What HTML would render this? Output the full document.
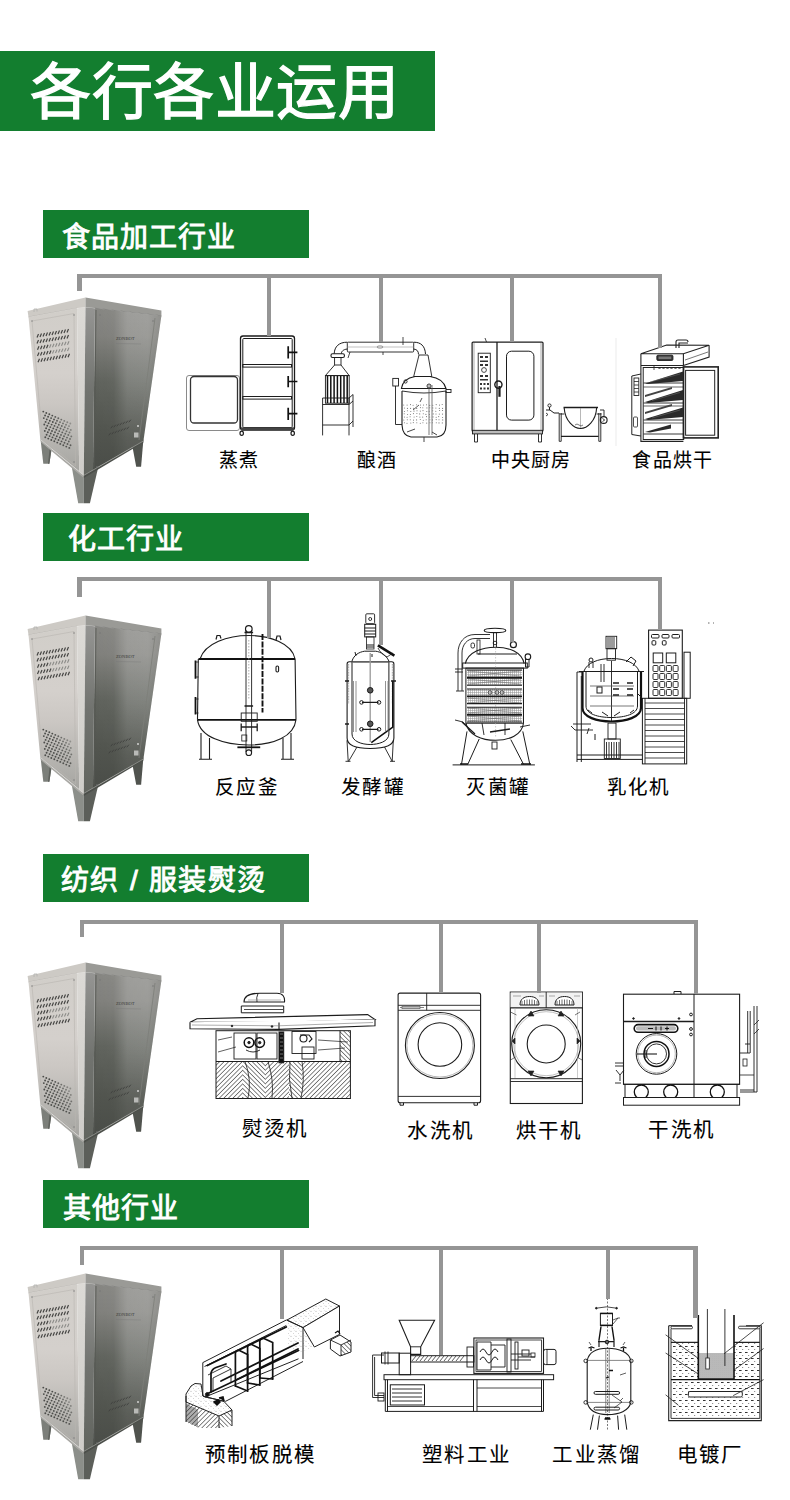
<!DOCTYPE html>
<html lang="zh-CN">
<head>
<meta charset="utf-8">
<style>
html,body{margin:0;padding:0;background:#fff;}
body{width:790px;height:1500px;position:relative;overflow:hidden;font-family:"Liberation Sans",sans-serif;}
.abs{position:absolute;}
.title{position:absolute;left:0;top:51px;width:435px;height:80px;background:#137e2f;}
.title span{position:absolute;left:30px;top:2px;letter-spacing:0.5px;font-size:61px;line-height:80px;color:#fff;-webkit-text-stroke:1.3px #fff;white-space:nowrap;}
.hdr{position:absolute;left:43px;width:266px;height:48px;background:#137e2f;}
.hdr span{position:absolute;left:19px;top:0px;font-size:28px;line-height:48px;letter-spacing:1.1px;color:#fff;-webkit-text-stroke:0.9px #fff;white-space:nowrap;}
.ln{position:absolute;background:#959595;}
.lbl{position:absolute;font-size:19px;line-height:24px;color:#000;-webkit-text-stroke:0.1px #000;white-space:nowrap;letter-spacing:1.3px;}
.s2{letter-spacing:1.25px;font-size:19.5px;}
.s3{letter-spacing:2.4px;font-size:20.5px;}
svg{position:absolute;overflow:visible;}
</style>
</head>
<body>
<svg width="0" height="0" style="position:absolute">
<defs>
<linearGradient id="gLeft" x1="0" y1="0" x2="0" y2="1">
<stop offset="0" stop-color="#d1cec9"/><stop offset="0.4" stop-color="#d4d0cc"/><stop offset="0.58" stop-color="#cbc7c3"/><stop offset="0.75" stop-color="#bcbab6"/><stop offset="0.9" stop-color="#aeada9"/><stop offset="1" stop-color="#a6a5a1"/>
</linearGradient>
<linearGradient id="gFadeV" x1="0" y1="0" x2="0" y2="1">
<stop offset="0" stop-color="#fff"/><stop offset="0.45" stop-color="#fff"/><stop offset="0.8" stop-color="#555"/><stop offset="1" stop-color="#333"/>
</linearGradient>
<mask id="mFade" maskContentUnits="objectBoundingBox"><rect x="0" y="0" width="1" height="1" fill="url(#gFadeV)"/></mask>
<linearGradient id="gRight" x1="0" y1="0" x2="0" y2="1">
<stop offset="0" stop-color="#878783"/><stop offset="0.17" stop-color="#80807c"/><stop offset="0.45" stop-color="#60635d"/><stop offset="0.75" stop-color="#52554f"/><stop offset="1" stop-color="#4a4d48"/>
</linearGradient>
<linearGradient id="gRightH" x1="0" y1="0" x2="1" y2="0">
<stop offset="0" stop-color="#fff" stop-opacity="0"/><stop offset="0.3" stop-color="#fff" stop-opacity="0.02"/><stop offset="0.5" stop-color="#fff" stop-opacity="0.2"/><stop offset="0.8" stop-color="#fff" stop-opacity="0.22"/><stop offset="1" stop-color="#fff" stop-opacity="0.1"/>
</linearGradient>
<linearGradient id="gCornerD" x1="0" y1="0" x2="0" y2="1">
<stop offset="0" stop-color="#959593"/><stop offset="0.5" stop-color="#71736f"/><stop offset="1" stop-color="#62655f"/>
</linearGradient>
<linearGradient id="gCornerL" x1="0" y1="0" x2="0" y2="1">
<stop offset="0" stop-color="#dcdad6"/><stop offset="1" stop-color="#cfcdc9"/>
</linearGradient>
<symbol id="cab" viewBox="0 0 150 220">
<!-- legs -->
<polygon points="20.5,149 32,156 29.4,173.8 23.3,173.8" fill="#7c7f7a"/>
<polygon points="30,155 32,156 29.4,173.8 28,173.8" fill="#5e615c"/>
<polygon points="112.3,156 123.4,149.5 121.1,176.8 116.2,176.8" fill="#50534e"/>
<polygon points="51.6,176 63.8,185 63.8,213.3 58.2,213.3" fill="#8c8f8a"/>
<polygon points="63.8,185 78.5,176 69.9,213.3 63.8,213.3" fill="#5c5f5a"/>
<!-- lid -->
<polygon points="7.6,20.9 65.5,7.6 65.5,17.5 57,18 8.5,27" fill="#cdcac5"/>
<polygon points="65.5,7.6 141.4,20.5 141.4,25.6 75,18 65.5,17.5" fill="#9a9a96"/>
<line x1="75" y1="18.3" x2="141.4" y2="25.8" stroke="#6a6a67" stroke-width="0.8"/>
<line x1="8.5" y1="27" x2="57" y2="18.2" stroke="#a9a6a1" stroke-width="0.6"/>
<!-- faces -->
<polygon points="8.5,27 57,18.2 59.2,181.6 20.3,149.5" fill="url(#gLeft)"/>
<polygon points="12,31 54,23.5 55.5,176 22.5,148.5" fill="none" stroke="#b8b5b0" stroke-width="0.6"/>
<polygon points="57,18.2 65.5,17.5 63.8,185.4 59.2,181.6" fill="url(#gCornerL)"/>
<polygon points="65.5,17.5 75,18.3 73,180 63.8,185.4" fill="url(#gCornerD)"/>
<polygon points="75,18.3 141.4,25.8 123.4,151 73,180" fill="url(#gRight)"/>
<polygon points="75,18.3 141.4,25.8 123.4,151 73,180" fill="url(#gRightH)" mask="url(#mFade)"/>
<polyline points="76,20 74.2,178" stroke="#545752" stroke-width="0.8" fill="none"/>
<polyline points="135,28 119,150" stroke="#7c7d79" stroke-width="0.8" fill="none"/>
<!-- base band -->
<polygon points="20.3,149.5 59.2,181.6 63.8,185.4 63.8,188 21.3,152.5" fill="#a9a8a4"/>
<polygon points="63.8,185.4 123.4,151 123.4,152.5 63.8,188" fill="#4c4f4a"/>
<line x1="20.3" y1="149.5" x2="63.8" y2="185.4" stroke="#e4e3df" stroke-width="0.7"/>
<line x1="63.8" y1="185.4" x2="123.4" y2="151" stroke="#9fa19c" stroke-width="0.7"/>
<!-- upper vents: slanted slots -->
<g stroke="#454543" stroke-width="1.2" stroke-linecap="butt">
<path d="M17,47.5l1.5,-3.4 M20,47l1.5,-3.4 M23,46.5l1.5,-3.4 M26,46l1.5,-3.4 M29,45.5l1.5,-3.4 M32,45l1.5,-3.4 M35,44.5l1.5,-3.4 M38,44l1.5,-3.4 M41,43.5l1.5,-3.4 M44,43l1.5,-3.4 M47,42.5l1.5,-3.4"/>
<path d="M17,53.5l1.5,-3.4 M20,53l1.5,-3.4 M23,52.5l1.5,-3.4 M26,52l1.5,-3.4 M29,51.5l1.5,-3.4 M32,51l1.5,-3.4 M35,50.5l1.5,-3.4 M38,50l1.5,-3.4 M41,49.5l1.5,-3.4 M44,49l1.5,-3.4 M47,48.5l1.5,-3.4"/>
<path d="M17.5,59.7l1.5,-3.4 M20.5,59.2l1.5,-3.4 M23.5,58.7l1.5,-3.4 M26.5,58.2l1.5,-3.4" />
<path d="M17.5,66l1.5,-3.4 M20.5,65.5l1.5,-3.4 M23.5,65l1.5,-3.4 M26.5,64.5l1.5,-3.4 M29.5,64l1.5,-3.4" />
<path d="M18,72.2l1.5,-3.4 M21,71.7l1.5,-3.4 M24,71.2l1.5,-3.4 M27,70.7l1.5,-3.4 M30,70.2l1.5,-3.4 M33,69.7l1.5,-3.4 M36,69.2l1.5,-3.4 M39,68.7l1.5,-3.4 M42,68.2l1.5,-3.4 M45,67.7l1.5,-3.4 M48,67.2l1.5,-3.4"/>
</g>
<g stroke="#8a8a87" stroke-width="1.1" stroke-linecap="butt">
<path d="M29.5,57.7l1.5,-3.4 M32.5,57.2l1.5,-3.4 M35.5,56.7l1.5,-3.4 M38.5,56.2l1.5,-3.4 M41.5,55.7l1.5,-3.4 M44.5,55.2l1.5,-3.4 M47.5,54.7l1.5,-3.4"/>
<path d="M32.5,63.5l1.5,-3.4 M35.5,63l1.5,-3.4 M38.5,62.5l1.5,-3.4 M41.5,62l1.5,-3.4 M44.5,61.5l1.5,-3.4 M47.5,61l1.5,-3.4"/>
</g>
<!-- lower vents: holes -->
<g fill="#4c4d4a" id="holes">
<circle cx="23.3" cy="121.6" r="0.95" opacity="1.00"/>
<circle cx="26.3" cy="123.0" r="0.95" opacity="1.00"/>
<circle cx="29.3" cy="124.3" r="0.95" opacity="1.00"/>
<circle cx="32.3" cy="125.6" r="0.95" opacity="1.00"/>
<circle cx="35.3" cy="126.9" r="0.95" opacity="0.92"/>
<circle cx="38.3" cy="128.2" r="0.95" opacity="0.82"/>
<circle cx="41.3" cy="129.6" r="0.95" opacity="0.72"/>
<circle cx="44.3" cy="130.9" r="0.95" opacity="0.62"/>
<circle cx="47.3" cy="132.2" r="0.95" opacity="0.52"/>
<circle cx="50.3" cy="133.5" r="0.95" opacity="0.42"/>
<circle cx="25.1" cy="125.5" r="0.95" opacity="1.00"/>
<circle cx="28.1" cy="126.8" r="0.95" opacity="1.00"/>
<circle cx="31.1" cy="128.1" r="0.95" opacity="1.00"/>
<circle cx="34.0" cy="129.5" r="0.95" opacity="0.97"/>
<circle cx="37.0" cy="130.8" r="0.95" opacity="0.88"/>
<circle cx="40.0" cy="132.1" r="0.95" opacity="0.79"/>
<circle cx="43.0" cy="133.4" r="0.95" opacity="0.70"/>
<circle cx="46.0" cy="134.7" r="0.95" opacity="0.61"/>
<circle cx="49.0" cy="136.1" r="0.95" opacity="0.52"/>
<circle cx="23.8" cy="128.1" r="0.95" opacity="1.00"/>
<circle cx="26.8" cy="129.4" r="0.95" opacity="1.00"/>
<circle cx="29.8" cy="130.7" r="0.95" opacity="1.00"/>
<circle cx="32.8" cy="132.0" r="0.95" opacity="1.00"/>
<circle cx="35.8" cy="133.3" r="0.95" opacity="0.93"/>
<circle cx="38.8" cy="134.7" r="0.95" opacity="0.85"/>
<circle cx="41.8" cy="136.0" r="0.95" opacity="0.77"/>
<circle cx="44.8" cy="137.3" r="0.95" opacity="0.69"/>
<circle cx="47.8" cy="138.6" r="0.95" opacity="0.62"/>
<circle cx="50.8" cy="139.9" r="0.95" opacity="0.54"/>
<circle cx="25.6" cy="131.9" r="0.95" opacity="1.00"/>
<circle cx="28.6" cy="133.2" r="0.95" opacity="1.00"/>
<circle cx="31.6" cy="134.6" r="0.95" opacity="1.00"/>
<circle cx="34.5" cy="135.9" r="0.95" opacity="0.97"/>
<circle cx="37.5" cy="137.2" r="0.95" opacity="0.90"/>
<circle cx="40.5" cy="138.5" r="0.95" opacity="0.83"/>
<circle cx="43.5" cy="139.8" r="0.95" opacity="0.77"/>
<circle cx="46.5" cy="141.2" r="0.95" opacity="0.70"/>
<circle cx="49.5" cy="142.5" r="0.95" opacity="0.63"/>
<circle cx="24.3" cy="134.5" r="0.95" opacity="1.00"/>
<circle cx="27.3" cy="135.8" r="0.95" opacity="1.00"/>
<circle cx="30.3" cy="137.1" r="0.95" opacity="1.00"/>
<circle cx="33.3" cy="138.4" r="0.95" opacity="0.99"/>
<circle cx="36.3" cy="139.8" r="0.95" opacity="0.94"/>
<circle cx="39.3" cy="141.1" r="0.95" opacity="0.88"/>
<circle cx="42.3" cy="142.4" r="0.95" opacity="0.83"/>
<circle cx="45.3" cy="143.7" r="0.95" opacity="0.77"/>
<circle cx="48.3" cy="145.0" r="0.95" opacity="0.72"/>
<circle cx="51.3" cy="146.4" r="0.95" opacity="0.66"/>
<circle cx="26.1" cy="138.3" r="0.95" opacity="1.00"/>
<circle cx="29.1" cy="139.7" r="0.95" opacity="1.00"/>
<circle cx="32.0" cy="141.0" r="0.95" opacity="1.00"/>
<circle cx="35.0" cy="142.3" r="0.95" opacity="0.97"/>
<circle cx="38.0" cy="143.6" r="0.95" opacity="0.93"/>
<circle cx="41.0" cy="144.9" r="0.95" opacity="0.88"/>
<circle cx="44.0" cy="146.3" r="0.95" opacity="0.84"/>
<circle cx="47.0" cy="147.6" r="0.95" opacity="0.79"/>
<circle cx="50.0" cy="148.9" r="0.95" opacity="0.75"/>
<circle cx="24.8" cy="140.9" r="0.95" opacity="1.00"/>
<circle cx="27.8" cy="142.2" r="0.95" opacity="1.00"/>
<circle cx="30.8" cy="143.5" r="0.95" opacity="1.00"/>
<circle cx="33.8" cy="144.9" r="0.95" opacity="0.99"/>
<circle cx="36.8" cy="146.2" r="0.95" opacity="0.96"/>
<circle cx="39.8" cy="147.5" r="0.95" opacity="0.92"/>
<circle cx="42.8" cy="148.8" r="0.95" opacity="0.89"/>
<circle cx="45.8" cy="150.1" r="0.95" opacity="0.86"/>
<circle cx="48.8" cy="151.5" r="0.95" opacity="0.82"/>
<circle cx="26.6" cy="144.8" r="0.95" opacity="1.00"/>
<circle cx="29.6" cy="146.1" r="0.95" opacity="1.00"/>
<circle cx="32.5" cy="147.4" r="0.95" opacity="1.00"/>
<circle cx="35.5" cy="148.7" r="0.95" opacity="0.98"/>
<circle cx="38.5" cy="150.0" r="0.95" opacity="0.96"/>
<circle cx="41.5" cy="151.4" r="0.95" opacity="0.94"/>
<circle cx="44.5" cy="152.7" r="0.95" opacity="0.91"/>
<circle cx="47.5" cy="154.0" r="0.95" opacity="0.89"/>
<circle cx="50.5" cy="155.3" r="0.95" opacity="0.87"/>
<circle cx="25.3" cy="147.3" r="0.95" opacity="1.00"/>
<circle cx="28.3" cy="148.6" r="0.95" opacity="1.00"/>
<circle cx="31.3" cy="150.0" r="0.95" opacity="1.00"/>
<circle cx="34.3" cy="151.3" r="0.95" opacity="1.00"/>
<circle cx="37.3" cy="152.6" r="0.95" opacity="0.98"/>
<circle cx="40.3" cy="153.9" r="0.95" opacity="0.97"/>
<circle cx="43.3" cy="155.2" r="0.95" opacity="0.96"/>
<circle cx="46.3" cy="156.6" r="0.95" opacity="0.95"/>
<circle cx="49.3" cy="157.9" r="0.95" opacity="0.94"/>
</g>
<!-- right face lower slots -->
<g stroke="#3f413e" stroke-width="0.9" stroke-linecap="round">
<path d="M91,138l1.6,-2 M94,137l1.6,-2 M97,136l1.6,-2 M100,135l1.6,-2 M103,134l1.6,-2 M106,133l1.6,-2 M109,132l1.6,-2"/>
<path d="M89,145l1.6,-2 M92,144l1.6,-2 M95,143l1.6,-2 M98,142l1.6,-2 M101,141l1.6,-2 M104,140l1.6,-2 M107,139l1.6,-2"/>
</g>
<rect x="114" y="142.5" width="4.5" height="5" fill="#b9bab7"/>
<circle cx="118" cy="136" r="1" fill="#d2d2d0"/>
<!-- logo -->
<text x="96" y="50" font-family="Liberation Serif" font-size="4.6" fill="#3c3c3a">ZONBOT</text>
<line x1="96" y1="53.5" x2="121" y2="54" stroke="#777" stroke-width="0.4"/>
<!-- screws -->
<g fill="#777">
<circle cx="80" cy="25" r="0.8"/><circle cx="133" cy="31" r="0.8"/><circle cx="54" cy="25" r="0.7"/><circle cx="12" cy="31" r="0.7"/>
<circle cx="77" cy="177" r="0.8"/><circle cx="54" cy="172" r="0.7"/>
</g>
<path d="M14,22 l0,-3 l3,0 l0,2.5" stroke="#b0b0ad" stroke-width="0.8" fill="none"/>
</symbol>
</defs>
</svg>
<svg class="abs" style="left:0;top:0" width="790" height="1500" viewBox="0 0 790 1500">
<use href="#cab" x="20" y="290" width="150" height="220"/>
<use href="#cab" x="20" y="608" width="150" height="220"/>
<use href="#cab" x="20" y="955" width="150" height="220"/>
<use href="#cab" x="20" y="1266" width="150" height="220"/>
<!-- ===== FOOD: steamer ===== -->
<g fill="none" stroke="#1c1c1c" stroke-width="1">
<rect x="186.5" y="375.5" width="53" height="55" rx="2.5" stroke="#8a8a8a"/>
<rect x="190.5" y="376.5" width="47" height="46.5" rx="3.5" stroke="#333" stroke-width="1.3"/>
<rect x="240.5" y="336" width="54" height="94" rx="2.5" stroke-width="1.3"/>
<rect x="242.8" y="338.5" width="49.4" height="89" rx="1"/>
<rect x="242.8" y="364.5" width="48.7" height="2.6"/>
<rect x="242.8" y="396.5" width="48.7" height="2.6"/>
<rect x="241" y="427.3" width="53" height="2.8" fill="#444" stroke="none"/>
<ellipse cx="241.7" cy="433.2" rx="1.7" ry="2.1" stroke-width="1.2"/>
<ellipse cx="292.7" cy="433.2" rx="1.7" ry="2.1" stroke-width="1.2"/>
<path d="M288.2,346.3v12.1 M288.8,352.3h8.6 M288.2,375.9v11.4 M288.8,381.5h8.6 M288.2,407.8v12.2 M288.8,413.6h8.6" stroke="#111" stroke-width="1.7"/>
</g>
<!-- ===== FOOD: distillation ===== -->
<g fill="none" stroke="#1c1c1c" stroke-width="0.9">
<rect x="347.3" y="342.2" width="66.4" height="9.8" rx="1"/>
<line x1="347.3" y1="347" x2="413.7" y2="347" stroke="#999" stroke-width="0.6"/>
<ellipse cx="380" cy="347" rx="3" ry="1.2" stroke="#666" stroke-width="0.6"/>
<path d="M350,352 l-2,6 M383,352 v3 M403,337 v8" stroke-width="0.8"/>
<path d="M347.3,342.2 C339,342.2 334.5,346.5 334.2,353.7 M347.3,349 C343,349.5 341.5,351.5 341.3,353.7" stroke-width="1"/>
<path d="M413.7,342.2 C421,342.2 425,346 425.5,354 M413.7,349 C417,349.5 418.5,351 418.5,354.5" stroke-width="1"/>
<rect x="331" y="353.7" width="13.4" height="3.8" rx="1.5" stroke-width="1.1"/>
<rect x="334.6" y="357.5" width="6.4" height="7.5"/>
<path d="M334.6,365 L325.4,375.6 L349.2,375.6 L341,365"/>
<rect x="325.4" y="375.6" width="23.8" height="27.6"/>
<path d="M327.5,376v27 M330.8,376v27 M334.1,376v27 M337.4,376v27 M340.7,376v27 M344,376v27 M347.2,376v27" stroke="#111" stroke-width="1.5"/>
<path d="M322.6,398 L349,398 L353,394.5 L353,427 M322.6,398 L322.6,435.4 M349,398 L349,435.4 M322.6,425 L349,425 L353,421 M322.6,404.5 L349,404.5 L353,401" />
<path d="M419,355 L428,355 L431.8,376.5 L413.7,376.5 Z" />
<path d="M401.4,388.5 C402.5,381 409,377.5 415,376.5 L430,376.5 C437,377.5 444,381 446,388.5 Z" stroke-width="1.1"/>
<path d="M402,391 L402,425 Q402.5,436 411,437 L437,437 Q446,436 446,425 L446,391" stroke-width="1.1"/>
<path d="M402,391 Q424,395 446,391" />
<circle cx="405.5" cy="381.5" r="1.6"/>
<circle cx="429" cy="386" r="2"/>
<rect x="446" y="389.5" width="5" height="3"/>
<rect x="392.8" y="378.4" width="5.7" height="7.6"/>
<path d="M395.5,386 L395.5,424.5 L402,424.5" />
<path d="M429,385 v50 M432,385 v50" stroke="#555" stroke-width="0.8"/>
<path d="M413,410 l6,-5 M420,402 l2,-4" stroke="#444"/>
<path d="M407,432 l8,-3 M432,432 l5,3 M424,437 v5" stroke="#333"/>
</g>
<g fill="#777">
<circle cx="403.7" cy="405.0" r="0.55"/>
<circle cx="407.1" cy="405.1" r="0.55"/>
<circle cx="410.5" cy="404.6" r="0.55"/>
<circle cx="413.1" cy="405.3" r="0.55"/>
<circle cx="416.6" cy="404.7" r="0.55"/>
<circle cx="420.5" cy="405.0" r="0.55"/>
<circle cx="423.5" cy="405.0" r="0.55"/>
<circle cx="426.5" cy="404.7" r="0.55"/>
<circle cx="429.7" cy="405.4" r="0.55"/>
<circle cx="432.8" cy="405.2" r="0.55"/>
<circle cx="436.2" cy="404.6" r="0.55"/>
<circle cx="439.5" cy="405.1" r="0.55"/>
<circle cx="442.2" cy="404.5" r="0.55"/>
<circle cx="404.4" cy="408.0" r="0.55"/>
<circle cx="407.4" cy="408.4" r="0.55"/>
<circle cx="410.6" cy="408.4" r="0.55"/>
<circle cx="413.5" cy="408.3" r="0.55"/>
<circle cx="416.7" cy="408.4" r="0.55"/>
<circle cx="420.4" cy="407.6" r="0.55"/>
<circle cx="422.8" cy="407.7" r="0.55"/>
<circle cx="426.9" cy="407.9" r="0.55"/>
<circle cx="429.7" cy="407.8" r="0.55"/>
<circle cx="432.8" cy="407.9" r="0.55"/>
<circle cx="435.9" cy="408.1" r="0.55"/>
<circle cx="439.3" cy="408.4" r="0.55"/>
<circle cx="442.6" cy="408.4" r="0.55"/>
<circle cx="404.4" cy="411.5" r="0.55"/>
<circle cx="407.4" cy="410.7" r="0.55"/>
<circle cx="410.8" cy="411.5" r="0.55"/>
<circle cx="414.0" cy="411.1" r="0.55"/>
<circle cx="417.0" cy="410.7" r="0.55"/>
<circle cx="420.3" cy="411.1" r="0.55"/>
<circle cx="423.0" cy="410.6" r="0.55"/>
<circle cx="426.8" cy="411.5" r="0.55"/>
<circle cx="429.2" cy="411.3" r="0.55"/>
<circle cx="432.7" cy="410.7" r="0.55"/>
<circle cx="435.8" cy="411.3" r="0.55"/>
<circle cx="439.6" cy="410.5" r="0.55"/>
<circle cx="442.5" cy="410.5" r="0.55"/>
<circle cx="404.2" cy="413.8" r="0.55"/>
<circle cx="407.6" cy="414.5" r="0.55"/>
<circle cx="410.4" cy="414.5" r="0.55"/>
<circle cx="413.4" cy="413.6" r="0.55"/>
<circle cx="416.9" cy="413.5" r="0.55"/>
<circle cx="419.7" cy="413.9" r="0.55"/>
<circle cx="423.3" cy="413.7" r="0.55"/>
<circle cx="425.9" cy="414.4" r="0.55"/>
<circle cx="429.4" cy="414.5" r="0.55"/>
<circle cx="433.2" cy="413.9" r="0.55"/>
<circle cx="436.0" cy="414.0" r="0.55"/>
<circle cx="439.3" cy="414.1" r="0.55"/>
<circle cx="442.5" cy="414.1" r="0.55"/>
<circle cx="404.4" cy="417.0" r="0.55"/>
<circle cx="407.1" cy="417.2" r="0.55"/>
<circle cx="410.1" cy="416.8" r="0.55"/>
<circle cx="414.1" cy="417.0" r="0.55"/>
<circle cx="416.8" cy="416.5" r="0.55"/>
<circle cx="419.9" cy="417.1" r="0.55"/>
<circle cx="422.7" cy="417.1" r="0.55"/>
<circle cx="426.5" cy="416.6" r="0.55"/>
<circle cx="429.7" cy="417.0" r="0.55"/>
<circle cx="433.0" cy="416.9" r="0.55"/>
<circle cx="436.2" cy="417.2" r="0.55"/>
<circle cx="438.7" cy="416.6" r="0.55"/>
<circle cx="442.6" cy="417.5" r="0.55"/>
<circle cx="403.8" cy="420.0" r="0.55"/>
<circle cx="407.3" cy="419.8" r="0.55"/>
<circle cx="410.3" cy="419.8" r="0.55"/>
<circle cx="413.5" cy="420.1" r="0.55"/>
<circle cx="416.6" cy="419.9" r="0.55"/>
<circle cx="420.3" cy="419.5" r="0.55"/>
<circle cx="423.3" cy="420.2" r="0.55"/>
<circle cx="426.2" cy="419.7" r="0.55"/>
<circle cx="429.9" cy="419.7" r="0.55"/>
<circle cx="432.5" cy="419.9" r="0.55"/>
<circle cx="436.2" cy="419.6" r="0.55"/>
<circle cx="439.0" cy="419.8" r="0.55"/>
<circle cx="442.7" cy="419.9" r="0.55"/>
<circle cx="404.4" cy="422.7" r="0.55"/>
<circle cx="407.0" cy="423.2" r="0.55"/>
<circle cx="410.8" cy="423.0" r="0.55"/>
<circle cx="413.3" cy="422.6" r="0.55"/>
<circle cx="416.8" cy="422.7" r="0.55"/>
<circle cx="420.3" cy="423.3" r="0.55"/>
<circle cx="422.9" cy="422.8" r="0.55"/>
<circle cx="426.7" cy="423.1" r="0.55"/>
<circle cx="429.9" cy="422.8" r="0.55"/>
<circle cx="432.4" cy="422.8" r="0.55"/>
<circle cx="436.3" cy="422.8" r="0.55"/>
<circle cx="439.0" cy="422.9" r="0.55"/>
<circle cx="442.3" cy="422.9" r="0.55"/>
</g>
<!-- ===== FOOD: combi oven ===== -->
<g fill="none" stroke="#1c1c1c" stroke-width="1">
<rect x="472.1" y="342.1" width="70.9" height="89.1" rx="1" stroke-width="1.2"/>
<line x1="474" y1="343" x2="474" y2="430" stroke="#888" stroke-width="0.7"/>
<line x1="497" y1="342.1" x2="497" y2="431.2" stroke-width="1.3"/>
<line x1="541" y1="343" x2="541" y2="430" stroke="#888" stroke-width="0.7"/>
<rect x="478.2" y="353.2" width="12.1" height="39.5" stroke-width="0.9"/>
<rect x="506.5" y="351.2" width="27.4" height="68.9" rx="5" stroke-width="1"/>
<circle cx="498.4" cy="384.6" r="3.6" stroke-width="1.4"/>
<path d="M499.5,386 v10.8" stroke-width="2.2"/>
<path d="M485,338 l1.5,4" stroke-width="0.8"/>
<rect x="472.5" y="430.3" width="70" height="3.6" fill="#bbb" stroke-width="0.9"/>
<path d="M474.5,434 v8 h3 v-8 M538.5,434 v8 h3 v-8" stroke-width="0.9"/>
</g>
<g fill="#333">
<rect x="480" y="356" width="3" height="2"/><rect x="485" y="356" width="3" height="2"/>
<rect x="480" y="360.5" width="8" height="1.5"/>
<rect x="480" y="364" width="3" height="2"/><rect x="485" y="364" width="3" height="2"/>
<circle cx="484" cy="370" r="2.4" fill="none" stroke="#333" stroke-width="0.9"/>
<rect x="480" y="375" width="3" height="2"/><rect x="485" y="375" width="3" height="2"/>
<rect x="480" y="379" width="8" height="1.5"/>
<rect x="480" y="383" width="2" height="2"/><rect x="483.5" y="383" width="2" height="2"/><rect x="487" y="383" width="2" height="2"/>
<rect x="480" y="387.5" width="2" height="2"/><rect x="483.5" y="387.5" width="2" height="2"/><rect x="487" y="387.5" width="2" height="2"/>
</g>
<!-- kettle -->
<g fill="none" stroke="#1c1c1c" stroke-width="1">
<path d="M563.5,407.5 L598,407.5" stroke-width="1.6"/>
<path d="M564.2,408 C565,421 574,428.5 580.5,428.5 C587,428.5 596,421 596.6,408" stroke-width="1.1"/>
<path d="M580.5,408 v20" stroke="#888" stroke-width="0.6"/>
<path d="M559.2,413 v28.3 h2 v-28.3 M598.8,413 v28.3 h2 v-28.3" stroke-width="0.9"/>
<path d="M561,436.3 h37.5" stroke-width="1.3"/>
<path d="M559.5,414 h5 M596.5,414 h5 M600,410 h4 v6" stroke-width="0.9"/>
<circle cx="603.7" cy="420" r="3.4" stroke-width="1.1"/>
<path d="M602.5,418.5 l2.2,1.5 l-2.2,1.5" stroke-width="0.8"/>
<circle cx="549.5" cy="405.5" r="1.6" stroke-width="0.9"/>
<path d="M549.5,407 v3 M546,410 h4 l4,3 h5" stroke-width="1"/>
<path d="M546,413 l2,1.5 l-2,1.5" stroke-width="0.8"/>
<path d="M575,425 q2,-2 4,0 q2,2 4,0" stroke="#444" stroke-width="0.7"/>
</g>
<line x1="616" y1="338" x2="616" y2="446" stroke="#e6e6e6" stroke-width="0.8"/>
<!-- ===== FOOD: dryer ===== -->
<g fill="none" stroke="#222" stroke-width="1">
<path d="M640.9,353.7 L666.7,345 L709.1,345.3 L683.4,353.7 Z" stroke-width="1.1"/>
<path d="M640.9,353.7 L640.9,441.4 L683.4,441.4 M683.4,353.7 L683.4,365.5 M709.1,345.3 L709.1,357 L683.4,365.5 M640.9,365.5 L683.4,365.5" stroke-width="1.1"/>
<path d="M685,360 L708,352" stroke="#555" stroke-width="0.8"/>
<path d="M676,348 v-6 q0,-2 2,-2 h8 q2,0 2,2 M679,348 v-5 h9" stroke-width="1.1"/>
<rect x="656.9" y="355.2" width="16" height="5.2" rx="1" fill="#333"/>
<rect x="658.5" y="356.5" width="12.8" height="2.6" fill="#777" stroke="none"/>
<rect x="643.2" y="367.5" width="40.5" height="72" stroke-width="1"/>
<rect x="683.4" y="366.9" width="34.8" height="71" stroke-width="1.6"/>
<rect x="685.6" y="370.4" width="29.1" height="64.8" stroke-width="1"/>
<path d="M631.8,376 L640.9,374 M631.8,376 L631.8,434.5 L640.9,436" stroke-width="1"/>
<rect x="634" y="378" width="4.8" height="17.5" stroke-width="0.9"/>
<path d="M634,381.5h4.8 M634,385h4.8 M634,388.5h4.8 M634,392h4.8" stroke-width="0.8"/>
<rect x="633.5" y="417" width="4" height="10" rx="1" stroke-width="0.8"/>
<path d="M654,366 v4 M658,367 a1.5,1.5 0 0 0 3,0 M662,367 a1.5,1.5 0 0 0 3,0 M666,367 a1.5,1.5 0 0 0 3,0 M670,367 a1.5,1.5 0 0 0 3,0 M674,367 a1.5,1.5 0 0 0 3,0 M678,367 a1.5,1.5 0 0 0 3,0" stroke-width="0.8"/>
<path d="M643.5,383 h40 M643.5,403 h40 M643.5,420 h40 M643.5,434 h40" stroke-width="0.9"/>
<path d="M643.5,387 h40 M643.5,406 h40 M643.5,423 h40" stroke-width="0.7"/>
</g>
<g fill="#2a2a2a">
<path d="M645,383.5 L683,371.5 L683,381 L648,384 Z"/>
<path d="M645,402 L683,390 L683,400 L648,403 Z"/>
<path d="M645,419 L683,407.5 L683,417 L648,420 Z"/>
<path d="M645,432 L671,424.5 L671,428.5 L650,432.5 Z"/>
<path d="M645,395 L672,387 L672,389 L645,397 Z" fill="#444"/>
<path d="M645,412 L672,404 L672,406 L645,414 Z" fill="#444"/>
</g>
<g stroke="#777" stroke-width="0.5">
<path d="M650,382 l30,-8 M652,400.5 l28,-8 M652,418 l28,-8"/>
</g>

<defs>
<pattern id="pGrid" width="2" height="2" patternUnits="userSpaceOnUse">
<path d="M0,0.5h2 M0.5,0v2" stroke="#8a8a8a" stroke-width="0.5"/>
</pattern>
<pattern id="pHatch" width="3.2" height="3.2" patternUnits="userSpaceOnUse" patternTransform="rotate(45)">
<line x1="0" y1="0" x2="0" y2="3.2" stroke="#222" stroke-width="1.1"/>
</pattern>
<pattern id="pHatch2" width="3.2" height="3.2" patternUnits="userSpaceOnUse" patternTransform="rotate(-45)">
<line x1="0" y1="0" x2="0" y2="3.2" stroke="#222" stroke-width="1.1"/>
</pattern>
<pattern id="pDots" width="2" height="2" patternUnits="userSpaceOnUse">
<circle cx="1" cy="1" r="0.65" fill="#333"/>
</pattern>
<pattern id="pDash" width="6" height="6" patternUnits="userSpaceOnUse">
<rect x="1" y="2" width="2.6" height="1" fill="#333"/><rect x="4" y="5" width="1.2" height="0.8" fill="#777"/>
</pattern>
<pattern id="pSpeck" width="5" height="5" patternUnits="userSpaceOnUse">
<circle cx="1" cy="1.2" r="0.45" fill="#666"/><circle cx="3.4" cy="3.6" r="0.4" fill="#888"/><circle cx="4.2" cy="0.8" r="0.3" fill="#999"/>
</pattern>
</defs>
<!-- ===== CHEM: reactor ===== -->
<g fill="none" stroke="#1c1c1c" stroke-width="1">
<path d="M200,659 C205,643 228,635.5 248.8,635.5 C269,635.5 292,643 295.1,659" stroke-width="1.1"/>
<path d="M198.3,659 L197.5,719.8 M295.1,659 L296,719.8" stroke-width="1.1"/>
<path d="M197.5,719.8 C200,737 224,745 248.8,745 C273,745 294,737 296,719.8" stroke-width="1.1"/>
<path d="M198.5,659 L295,659 M197.5,719.8 L296,719.8" stroke="#111" stroke-width="1.8"/>
<path d="M201,733 L201,759 M209.5,738 L209.5,759 M199,759.2 L212,759.2 M283,738 L283,759 M291,733 L291,759 M281,759.2 L294,759.2" stroke-width="1.1"/>
<path d="M246,630 L246,752 M251.6,630 L251.6,752" stroke-width="0.9"/>
<path d="M248.8,640 L248.8,700" stroke="#999" stroke-dasharray="1.5,1.5" stroke-width="0.8"/>
<circle cx="248.8" cy="629" r="3.3" stroke-width="1.2"/>
<path d="M244.5,632.5 h8.6 M244.5,706 h8.6" stroke-width="1.5"/>
<circle cx="248.8" cy="752.7" r="2.8" stroke-width="1.1"/>
<path d="M237.4,747.3 L260.2,747.3" stroke="#111" stroke-width="1.8"/>
<rect x="241.2" y="713" width="16" height="8.3" stroke-width="0.9"/>
<path d="M241.2,723.6 v7.6 M257.2,723.6 v7.6 M241.2,727 h16" stroke-width="1.3"/>
<rect x="241.8" y="735" width="5" height="6" stroke-width="0.8"/>
<path d="M262.5,634 L262.5,712.5" stroke="#111" stroke-width="1.9" stroke-dasharray="6,1.4"/>
<rect x="276" y="666" width="2.6" height="6" rx="1.2" stroke-width="1.1"/>
<path d="M195.5,660.6 L195.5,678.8 M195.5,697 L195.5,714.5" stroke="#111" stroke-width="1.8"/>
<path d="M195.5,662 h3 M195.5,677 h3 M195.5,699 h3 M195.5,713 h3" stroke-width="0.8"/>
<path d="M216,639.5 l1,-4 h3 l1,3 M276,640 l1,-4 h3 l1,4" stroke-width="1.2"/>
</g>
<!-- ===== CHEM: fermenter ===== -->
<g fill="none" stroke="#1c1c1c" stroke-width="1">
<rect x="365.8" y="613.8" width="8.8" height="9.9" rx="1" stroke-width="0.9"/>
<circle cx="370.2" cy="619" r="1.5" stroke-width="0.9"/>
<rect x="364.7" y="624.3" width="11" height="12.6" stroke-width="1"/>
<path d="M364.7,628 h11 M364.7,631 h11 M364.7,634 h11" stroke-width="1.1"/>
<rect x="366.5" y="636.9" width="7.5" height="12.1" stroke-width="0.8"/>
<path d="M366.5,645 h7.5 M366.5,647 h7.5" stroke-width="1.2"/>
<path d="M352,661 C354,655 359,652 364.7,651.2 L375.7,651.2 C381,652 386,655 388.9,661" stroke-width="1"/>
<path d="M349.2,661.7 L391.8,661.7 Q393.9,661.7 393.9,664 L393.9,738 C393.9,746 382,748.5 370.2,748.5 C358,748.5 347.1,746 347.1,738 L347.1,664 Q347.1,661.7 349.2,661.7 Z" stroke-width="1.1"/>
<path d="M352,661.7 L352,734 C352,741.5 362,744.5 370.2,744.5 C378.5,744.5 388.9,741.5 388.9,734 L388.9,661.7" stroke-width="1"/>
<path d="M353,662.3 h35" stroke="#888" stroke-width="1.2"/>
<path d="M348.5,664 v40 M392.5,664 v40" stroke="#999" stroke-width="1.4" stroke-dasharray="0.8,0.8"/>
<path d="M347,740.4 L348.2,761.3 M357,747 L348.6,761.3 M393.3,740.4 L392.2,761.3 M384.5,747 L392.2,761.3 M345.5,761.3 h5 M390,761.3 h5" stroke-width="0.9"/>
<path d="M370.2,653 L370.2,742" stroke="#999" stroke-width="1.3"/>
<circle cx="370.2" cy="690.3" r="2.8" fill="#555"/>
<circle cx="370.2" cy="723.8" r="2.8" fill="#555"/>
<path d="M362,702.4 h16.5 M362,729.3 h16.5" stroke-width="1.2"/>
<circle cx="361.5" cy="702.4" r="1.8"/><circle cx="379" cy="702.4" r="1.8"/>
<circle cx="361.5" cy="729.3" r="1.8"/><circle cx="379" cy="729.3" r="1.8"/>
<path d="M377.9,645.4 L394.4,655.6" stroke="#111" stroke-width="2.6"/>
<path d="M378,648 C380,652 383,655 387,657 L393,653" stroke-width="0.8"/>
<path d="M392.8,681 L392.8,727.2 L371.3,742.6" stroke="#111" stroke-width="1.6"/>
<path d="M353.5,681 v51 M356,681 v51 M385.5,681 v51 M388,681 v51" stroke="#777" stroke-width="0.8"/>
<path d="M345,681 h4 M345,724 h4 M391,681 h5" stroke-width="1.3"/>
<path d="M355,652 l1,4 M372,654 v3" stroke-width="1"/>
</g>
<!-- ===== CHEM: sterilizer ===== -->
<g fill="none" stroke="#1c1c1c" stroke-width="1">
<path d="M465.3,663.7 C468,652 482,647.2 495.6,647.2 C509,647.2 522,652 524.1,663.7" stroke-width="1.1"/>
<rect x="462.7" y="663" width="64.6" height="5.1" stroke-width="1"/>
<rect x="465.9" y="668.1" width="57.6" height="55.1" stroke-width="1"/>
<path d="M465.9,723.2 C468,735 482,740.3 495.6,740.3 C509,740.3 522,735 523.5,723.2" stroke-width="1.1"/>
<path d="M467,731.4 L461.5,764.3 M479.2,739 L467.8,764.3 M510.8,739.6 L523.5,764.3 M522.8,731.4 L529.8,764.3" stroke-width="1"/>
<path d="M452.6,764.9 L534.9,764.9" stroke-width="1"/>
<path d="M460,764 h8 M521,764 h10" stroke="#111" stroke-width="1.6"/>
<ellipse cx="495" cy="630.4" rx="10.8" ry="2.2" stroke-width="1.1"/>
<path d="M493.5,632.6 L493.5,647 M496.5,632.6 L496.5,647" stroke-width="0.9"/>
<circle cx="495" cy="643" r="1.8" stroke-width="0.9"/>
<path d="M490,634.5 L475,634.5 C464,634.5 458,643 458,653 L458,690.9 M490,638.5 L475,638.5 C467,638.5 462,645 462,653 L462,690.9 M456,691 h8" stroke-width="0.9"/>
<path d="M455,669 h8 M455,672 h8" stroke-width="0.9"/>
<circle cx="513.4" cy="644.7" r="3" stroke-width="1.2"/>
<circle cx="527.9" cy="656.7" r="2.8" stroke-width="1.1"/>
<path d="M525.5,659 v8 M529,659 v8 h-4" stroke-width="1"/>
<rect x="471" y="643" width="3.5" height="5" rx="1.5" stroke-width="0.9"/>
<rect x="477" y="640" width="3" height="14" stroke-width="0.8"/>
<path d="M478,654 h39" stroke-width="1.2"/>
<path d="M495.6,648 v90" stroke="#aaa" stroke-dasharray="1.5,1.5" stroke-width="0.6"/>
<path d="M455,720 l8,2 L470,730 M482,723 l2,12 M505,723 v12 M520,727 l10,-2" stroke-width="0.9"/>
<path d="M462,722 l13,12 M490,732 l20,-3" stroke-width="1.3"/>
<rect x="492" y="742" width="5" height="7" stroke-width="0.9"/>
</g>
<g>
<rect x="467.2" y="670" width="55" height="7" fill="url(#pGrid)" stroke="#222" stroke-width="0"/>
<rect x="467.2" y="678.2" width="55" height="7" fill="url(#pGrid)"/>
<rect x="467.2" y="689" width="55" height="7" fill="url(#pGrid)"/>
<rect x="467.2" y="696.6" width="55" height="7" fill="url(#pGrid)"/>
<rect x="467.2" y="707.3" width="55" height="7" fill="url(#pGrid)"/>
<rect x="467.2" y="715" width="55" height="7" fill="url(#pGrid)"/>
<path d="M467,670 h55 M467,677.3 h55 M467,678.2 h55 M467,685.3 h55 M467,689 h55 M467,696.1 h55 M467,696.8 h55 M467,703.6 h55 M467,707.3 h55 M467,714.4 h55 M467,715.1 h55 M467,722 h55" stroke="#1a1a1a" stroke-width="1.1"/>
<path d="M468,671 L520,676 M468,676 L520,671 M468,679 L520,684 M468,684 L520,679 M468,698 L520,703 M468,703 L520,698 M468,708 L520,713 M468,713 L520,708 M468,716 L520,721 M468,721 L520,716" stroke="#666" stroke-width="0.5"/>
<circle cx="490" cy="692.5" r="1.8" fill="none" stroke="#333" stroke-width="0.8"/>
<circle cx="497" cy="692.5" r="1.8" fill="none" stroke="#333" stroke-width="0.8"/>
<circle cx="502" cy="692.5" r="1.8" fill="none" stroke="#333" stroke-width="0.8"/>
</g>
<!-- ===== CHEM: emulsifier ===== -->
<g fill="none" stroke="#1c1c1c" stroke-width="1">
<rect x="648.6" y="630.1" width="33.7" height="68.2" stroke-width="1.1"/>
<rect x="651.5" y="634.5" width="7.5" height="3.5" rx="1"/>
<rect x="662" y="634.5" width="7" height="3.5" rx="1"/>
<rect x="672" y="634.5" width="7.5" height="3.5" rx="1"/>
<rect x="652" y="640.7" width="3.8" height="4.3" rx="1"/>
<rect x="662.3" y="640.7" width="3.8" height="4.3" rx="1"/>
<rect x="653.2" y="653" width="9.5" height="9.8"/>
<rect x="666.3" y="653" width="9.5" height="9.8"/>
<rect x="684" y="652.2" width="6.2" height="46.1"/>
<rect x="642.4" y="698.3" width="44.3" height="65.6" stroke-width="1"/>
<path d="M645,698.3 v65.6 M684.5,698.3 v65.6" stroke-width="0.9"/>
<path d="M645,703 h39.5 M645,708.5 h39.5 M645,714 h39.5 M645,719.5 h39.5 M645,725 h39.5 M645,730.5 h39.5 M645,736 h39.5 M645,741.5 h39.5 M645,747 h39.5 M645,752.5 h39.5 M645,758 h39.5" stroke-width="0.8"/>
<path d="M582.5,672 L582.5,708 C582.5,717 597,721.5 611.5,721.5 C626,721.5 641,717 641,708 L641,672" stroke="#111" stroke-width="2.2"/>
<path d="M586,672 L586,706 C586,714 598,717.5 611.5,717.5 C625,717.5 637.5,714 637.5,706 L637.5,672" stroke-width="1"/>
<path d="M579,671.5 h65" stroke-width="1.2"/>
<path d="M584,671 C587,663 598,658.5 611.5,658.5 C625,658.5 636,663 639,671" stroke-width="1"/>
<rect x="607" y="648.7" width="8.5" height="11.5" stroke-width="0.9"/>
<rect x="606" y="636.3" width="10.7" height="12.4" stroke-width="0.9"/>
<path d="M608,637 v11 M610,637 v11 M612,637 v11 M614,637 v11" stroke="#222" stroke-width="0.9"/>
<rect x="604.3" y="739" width="16" height="19.5" stroke-width="0.9"/>
<path d="M606.5,742 v16 M609,742 v16 M611.5,742 v16 M614,742 v16 M616.5,742 v16 M619,742 v16" stroke="#222" stroke-width="0.9"/>
<rect x="608" y="723.1" width="8" height="15.9" stroke-width="0.9"/>
<path d="M577,672 L577,762 M581.3,676 L581.3,762 M577,755 h65.4 M577,759.4 h65.4" stroke-width="1"/>
<path d="M577,672 h6 M573,724 h18 M571,726 l4,4 h18 M587,734 l2,-6" stroke-width="0.9"/>
<path d="M601,664 v18 M604,664 v18 M611.5,661 v60" stroke-width="0.9"/>
<path d="M590,686 h44 M590,696 h44 M590,706 h44" stroke="#555" stroke-width="0.8"/>
<path d="M613,683 h6 M613,689 h6 M613,695 h6 M627,683 h6 M627,689 h6 M627,695 h6" stroke-width="1.3"/>
<rect x="597" y="687" width="5" height="6" fill="#fff"/>
<circle cx="591" cy="660" r="2" stroke-width="1"/>
<path d="M589,662 v6 M593,662 v6" stroke-width="0.9"/>
<path d="M626,662 l5,-5 l5,4 l-3,5" stroke-width="1"/>
<path d="M588,710 l4,3 M634,710 l-4,3 M602,712 l6,4 M620,712 l-6,4" stroke-width="1"/>
<path d="M637,693 l5,5" stroke-width="1"/>
<path d="M595,734 v6" stroke-width="1"/>
</g>
<g fill="none" stroke="#1c1c1c" stroke-width="0.9">
<rect x="653.0" y="665.5" width="5" height="6" rx="1"/>
<rect x="659.7" y="665.5" width="5" height="6" rx="1"/>
<rect x="666.4" y="665.5" width="5" height="6" rx="1"/>
<rect x="673.1" y="665.5" width="5" height="6" rx="1"/>
<rect x="653.0" y="673.5" width="5" height="6" rx="1"/>
<rect x="659.7" y="673.5" width="5" height="6" rx="1"/>
<rect x="666.4" y="673.5" width="5" height="6" rx="1"/>
<rect x="673.1" y="673.5" width="5" height="6" rx="1"/>
<rect x="653.0" y="681.5" width="5" height="6" rx="1"/>
<rect x="659.7" y="681.5" width="5" height="6" rx="1"/>
<rect x="666.4" y="681.5" width="5" height="6" rx="1"/>
<rect x="673.1" y="681.5" width="5" height="6" rx="1"/>
<rect x="653.0" y="689.5" width="5" height="6" rx="1"/>
<rect x="659.7" y="689.5" width="5" height="6" rx="1"/>
<rect x="666.4" y="689.5" width="5" height="6" rx="1"/>
<rect x="673.1" y="689.5" width="5" height="6" rx="1"/>
</g>
<path d="M708,623 h1.5 M713,623 h1" stroke="#666" stroke-width="1"/>

<!-- ===== TEXTILE: ironing press ===== -->
<g fill="none" stroke="#1c1c1c" stroke-width="1">
<rect x="216" y="1061.5" width="134.4" height="37" fill="url(#pHatch)" stroke="none"/>
<rect x="243" y="1061.5" width="22" height="37" fill="#fff" stroke="none"/>
<rect x="243" y="1061.5" width="22" height="37" fill="url(#pHatch2)" stroke="none"/>
<rect x="289" y="1061.5" width="12" height="37" fill="#fff" stroke="none"/>
<rect x="289" y="1061.5" width="12" height="37" fill="url(#pHatch2)" stroke="none"/>
<rect x="216" y="1030.7" width="134.4" height="67.8" stroke-width="1"/>
<path d="M216,1061.5 h134.4" stroke-width="1"/>
<rect x="340" y="1031" width="10.4" height="30.5" fill="url(#pHatch2)" stroke="none"/><path d="M340,1030.7 L340,1061.5" stroke-width="0.9"/>
<path d="M245,1061.5 Q252,1080 248,1098 M268,1061.5 Q274,1080 272,1098 M290,1061.5 Q288,1080 292,1098 M302,1061.5 Q305,1080 301,1098" stroke-width="0.8"/>
<path d="M190,1022.3 L197,1018.8 L367.7,1014.6 L375,1019.6 L279,1022.4 Z" fill="#fff" stroke-width="1.1"/>
<path d="M190,1022.3 L190,1028.7 L279,1029.4 L375,1025.7 L375,1019.6 M279,1022.4 L279,1029.4" fill="#fff" stroke-width="1.1"/>
<path d="M192,1025 L278,1025.8 L373,1022.5" stroke="#777" stroke-width="0.6"/>
<circle cx="232" cy="1026" r="0.8" fill="#222"/><circle cx="272" cy="1026.5" r="0.8" fill="#222"/>
<path d="M241.3,1006 h42.4 v6.8 h-42.4 z" fill="#fff" stroke-width="1"/>
<path d="M244,1009.5 h39" stroke-width="0.8"/>
<path d="M244,1002 C244,996 250,993.2 260,993.2 L277,993.2 C283,993.2 285,997 284.5,1002 Z" fill="#fff" stroke-width="1.1"/><path d="M258,993.5 q-2,4 -1,8.5" stroke-width="0.9"/>
<path d="M248,1000 h33" stroke="#888" stroke-width="0.6"/>
<rect x="234" y="1033" width="22" height="26" stroke-width="0.9"/>
<rect x="257" y="1033" width="20" height="26" stroke-width="0.9"/>
<circle cx="249" cy="1042.6" r="4.8" stroke="#111" stroke-width="1.5"/>
<circle cx="259.7" cy="1042.6" r="4.8" stroke="#111" stroke-width="1.5"/>
<circle cx="249" cy="1042.6" r="1.2" fill="#222"/>
<circle cx="259.7" cy="1042.6" r="1.2" fill="#222"/>
<path d="M246,1050 q7,4 14,0" stroke-width="0.9"/>
<rect x="279" y="1032" width="4.7" height="30.8" fill="#111"/>
<path d="M280,1034 h3 M280,1038 h3 M280,1042 h3 M280,1046 h3 M280,1050 h3 M280,1054 h3 M280,1058 h3" stroke="#888" stroke-width="0.8"/>
<rect x="292" y="1031.5" width="24" height="22" stroke-width="0.9"/>
<circle cx="303.5" cy="1038.5" r="3.5" stroke-width="1.1"/>
<path d="M300,1035 l9,0 l3,4 l-3,3" stroke-width="1.1"/>
<rect x="302" y="1047" width="12" height="12" stroke-width="0.9"/>
<path d="M218,1040 L232,1037 M218,1052 L236,1047 M318,1040 L348,1042 M318,1050 L345,1048" stroke-width="0.7"/>
</g>
<!-- ===== TEXTILE: washer ===== -->
<g fill="none" stroke="#1c1c1c" stroke-width="1">
<rect x="398.1" y="993.1" width="82.5" height="109.6" rx="2" stroke-width="1.1"/>
<path d="M398.1,1005.3 h82.5 M398.1,1010.3 h82.5 M426.7,993.1 v17.2" stroke-width="0.9"/>
<path d="M400,1007.5 h24" stroke="#666" stroke-width="0.8"/>
<rect x="402" y="1006.5" width="18" height="2.2" fill="#bbb" stroke="#555" stroke-width="0.6"/>
<ellipse cx="439.9" cy="1045.5" rx="34.5" ry="33" stroke-width="1.1"/>
<ellipse cx="439.9" cy="1045.5" rx="33" ry="31.5" stroke="#888" stroke-width="0.6"/>
<circle cx="439.9" cy="1044.5" r="21.8" stroke-width="1.1"/>
<path d="M398.1,1096.4 h82.5" stroke-width="0.9"/>
<path d="M400,1102.7 v2.5 h3.5 v-2.5 M474,1102.7 v2.5 h3.5 v-2.5" stroke-width="1"/>
</g>
<!-- ===== TEXTILE: dryer ===== -->
<g fill="none" stroke="#1c1c1c" stroke-width="1">
<rect x="510.3" y="992.1" width="72.1" height="111.4" stroke-width="1.1"/>
<path d="M510.3,1007.8 h72.1 M546.2,992.1 v15.7" stroke-width="0.9"/>
<rect x="510.5" y="992.5" width="71.6" height="15" fill="#f2f2f2" stroke="none"/>
<path d="M510.3,1007.8 h72.1 M546.2,992.1 v15.7 M546.2,994 h0" stroke-width="0.9"/>
<path d="M520,1005 C520,999 524,996.5 529.5,996.5 C535,996.5 539,999 539,1005 Z" fill="#fff" stroke-width="1"/>
<path d="M555,1005 C555,999 559,996.5 564.5,996.5 C570,996.5 574,999 574,1005 Z" fill="#fff" stroke-width="1"/>
<path d="M522,1001 v4 M524.5,1000 v5 M527,999.5 v5.5 M529.5,999.5 v5.5 M532,999.5 v5.5 M534.5,1000 v5 M537,1001 v4 M557,1001 v4 M559.5,1000 v5 M562,999.5 v5.5 M564.5,999.5 v5.5 M567,999.5 v5.5 M569.5,1000 v5 M572,1001 v4" stroke="#333" stroke-width="0.7"/>
<path d="M513,996 h8 M539,996 h5 M549,996 h6 M574,996 h6" stroke="#888" stroke-width="0.7"/>
<ellipse cx="546.2" cy="1043.7" rx="34.5" ry="34" stroke-width="1.1"/>
<ellipse cx="546.2" cy="1043.7" rx="32.5" ry="32" stroke="#999" stroke-width="0.6"/>
<circle cx="546.2" cy="1044" r="19" stroke-width="1.1"/>
<path d="M510.3,1078.7 h72.1 M510.3,1081.5 h72.1" stroke-width="0.9"/>
<path d="M515,1008 v70 M577.5,1008 v70" stroke="#aaa" stroke-width="0.6"/>
<path d="M528,1016 l3,-5 l3,5 z M558,1016 l3,-5 l3,5 z M515,1038 l-3,3 l3,3 z M577,1038 l3,3 l-3,3 z M528,1071 l3,5 l3,-5 z M558,1071 l3,5 l3,-5 z" fill="#222" stroke-width="0.6"/>
<path d="M510.5,1012 l6,3 M580,1012 l-5,3 M510.5,1060 l5,-3 M582,1060 l-5,-3" stroke-width="0.6"/>
</g>
<!-- ===== TEXTILE: dry cleaner ===== -->
<g fill="none" stroke="#1c1c1c" stroke-width="1">
<rect x="623.5" y="994.2" width="116.1" height="90.1" stroke-width="1.1"/>
<path d="M694,994.2 v103.3" stroke-width="1"/>
<path d="M623.5,1021.5 h70.5" stroke-width="1.5"/>
<rect x="634.2" y="1024.6" width="43.6" height="7.7" rx="3.8" stroke="#111" stroke-width="1.6"/>
<rect x="636" y="1026.3" width="40" height="4.3" rx="2" fill="#bbb" stroke="none"/>
<path d="M648,1028.5 h5 M656,1026.5 v4 M661,1026.5 v4 M667,1026.5 v4 M665,1028.5 h4" stroke="#111" stroke-width="1"/>
<circle cx="656.5" cy="1053.9" r="20.3" stroke-width="1"/>
<circle cx="656.5" cy="1053.9" r="18.8" stroke="#888" stroke-width="0.6"/>
<circle cx="656.5" cy="1053.9" r="12.5" stroke="#111" stroke-width="1.5"/>
<circle cx="656.5" cy="1053.9" r="10" stroke-width="0.9"/>
<path d="M637,1054 h20" stroke-width="1.1"/>
<path d="M646,1050 v8" stroke-width="1"/>
<circle cx="691" cy="1014.5" r="1.4" stroke-width="1"/>
<circle cx="691" cy="1029" r="1.4" stroke-width="1"/>
<circle cx="691" cy="1034.5" r="1.4" stroke-width="1"/>
<circle cx="633.5" cy="1018.5" r="0.8" fill="#222"/>
<circle cx="679" cy="1018.5" r="0.8" fill="#222"/>
<path d="M674,994 v-2.5 h7 v2.5" stroke-width="1"/>
<path d="M623.5,1084.3 h116.1 M625,1084.3 v13.2 M737,1084.3 v13.2" stroke-width="1"/>
<circle cx="641.3" cy="1092" r="7" stroke="#111" stroke-width="1.3"/>
<circle cx="670.7" cy="1092" r="7" stroke="#111" stroke-width="1.3"/>
<circle cx="717.3" cy="1092" r="7" stroke="#111" stroke-width="1.3"/>
<rect x="623.5" y="1097.5" width="116.1" height="7.7" fill="#fff" stroke-width="1"/>
<path d="M747.7,1011 v42 M750.2,1011 v42 M745,1044 h5 M740,1053 h10" stroke-width="0.9"/>
<path d="M754,1006 v86 M757,1006 v86 M740,1092 h17 M740,1090 h14" stroke-width="0.9"/>
<path d="M754,1025 l5,-5 M754,1034 l5,-5" stroke-width="0.8"/>
<rect x="743" y="1059" width="4" height="7" stroke-width="0.8"/>
<path d="M740,1075 h14" stroke-width="0.8"/>
<path d="M615,1063 h8.5 M615,1066 h8.5 M616,1070 l4,5 l4,-5 M620,1075 v6 M615,1083 h6" stroke-width="0.9"/>
</g>

<!-- ===== OTHER: precast beam ===== -->
<g fill="none" stroke="#222" stroke-width="1">
<path d="M186,1394 L191,1386 L195,1383.5 L201,1384 L203,1396 L224,1401.5 L232,1410 L219,1416 L186,1402 Z" fill="url(#pSpeck)" stroke-width="1"/>
<path d="M186,1402 L219,1416 L219,1428 L199,1428 L186,1422 Z" fill="url(#pHatch)" stroke="none"/>
<path d="M186,1396 L186,1422 M219,1416 L219,1428 M232,1410 L232,1426" stroke-width="1"/>
<path d="M187,1404 v18 M189,1405 v18 M191,1406 v18 M193,1407 v18 M195,1408 v18 M197,1409 v18" stroke="#333" stroke-width="0.8"/>
<path d="M219,1416 L232,1410 L232,1426 L219,1428 Z" fill="url(#pHatch2)" stroke="none"/>
<path d="M202.8,1362.6 L286.3,1320 L303,1327.6 M204.5,1366.5 L286.3,1325.5 M202.8,1362.6 L202.8,1396 L205,1397 L298.5,1358.8 M225.6,1401.3 L303,1361.5 M205,1397 L225.6,1401.3" stroke-width="1"/>
<path d="M208,1375 L226,1366 L231,1369 L231,1383 M231,1369 L213,1378 L213,1392" stroke-width="0.9"/>
<path d="M287,1320 L325.8,1299 L339.5,1306 L303,1327.6 Z" fill="url(#pSpeck)" stroke-width="1"/>
<path d="M303,1327.6 L339.5,1306 L339.5,1334.4 L314.4,1347 Z" fill="#fff" stroke-width="1"/>
<path d="M287,1321 L303,1328 L314.4,1347 L303,1352 L287,1349 Z" fill="url(#pSpeck)" stroke="none"/>
<path d="M303,1327.6 L303,1359" stroke-width="1"/>
<path d="M330.4,1340 L340,1335 L351,1342 L351,1352 L340,1356 L330.4,1349 Z" fill="#fff" stroke-width="1"/>
<path d="M341,1345 L351,1340 L351,1352 L341,1356 Z" fill="url(#pHatch2)" stroke="none"/>
<path d="M330.4,1340 L341,1345 L351,1340 M341,1345 L341,1356" stroke-width="0.9"/>
<g stroke="#111" stroke-width="1.7" stroke-linecap="round">
<path d="M207.3,1393.7 L298.5,1350.4"/>
<path d="M207.3,1365.6 L286.3,1326.9"/>
<path d="M211,1392 L211,1373 Q212,1369 216,1367.5 L226,1364"/>
<path d="M221,1381 L298,1343"/>
<path d="M236,1380 L298,1349"/>
<path d="M235.4,1386 L235.4,1353 Q236,1349.5 239.5,1350.5 L247.6,1354.5 L247.6,1391"/>
<path d="M247.6,1383 L247.6,1347 Q248.2,1343.5 251.7,1344.5 L259.8,1348.5 L259.8,1385"/>
<path d="M259.8,1378 L259.8,1341 Q260.5,1337.5 264,1338.5 L272.7,1342.5 L272.7,1379"/>
<path d="M235.4,1386 L247.6,1391 M247.6,1383 L259.8,1385 M259.8,1378 L272.7,1379"/>
</g>
<circle cx="207.3" cy="1394.5" r="1.9" fill="#111"/>
<path d="M214,1402 l4,-2 l2,2 l-3,3 z M219,1398 l4,-1 l1,4" fill="#111" stroke="#111" stroke-width="1.5"/>
<path d="M335,1333 l3,-2 l2,3" stroke="#111" stroke-width="1.2"/>
</g>
<!-- ===== OTHER: injection machine ===== -->
<g fill="none" stroke="#1c1c1c" stroke-width="1">
<path d="M399.2,1320.3 L434.6,1320.3 L420.7,1346.8 L420.7,1354.4 L410.6,1354.4 L410.6,1346.8 Z" stroke-width="1.1"/>
<path d="M410.6,1346.8 h10.1" stroke-width="0.9"/>
<rect x="381.5" y="1353" width="17.7" height="10" stroke-width="1"/>
<path d="M385,1351.5 v13 M388,1351.5 v13" stroke-width="0.9"/>
<rect x="399.2" y="1353.2" width="11.4" height="21.5" stroke-width="1"/>
<rect x="410.6" y="1355.7" width="63.3" height="6.3" stroke-width="1"/>
<path d="M412,1361 l4,-5 M416,1361 l4,-5 M420,1361 l4,-5 M424,1361 l4,-5 M428,1361 l4,-5 M432,1361 l4,-5 M436,1361 l4,-5 M440,1361 l4,-5 M444,1361 l4,-5 M448,1361 l4,-5 M452,1361 l4,-5 M456,1361 l4,-5 M460,1361 l4,-5" stroke="#333" stroke-width="0.8"/>
<rect x="467" y="1347" width="6.5" height="20" stroke-width="0.9"/>
<rect x="473.9" y="1338" width="69.6" height="35.4" stroke-width="1.1"/>
<rect x="476" y="1340" width="65.5" height="31.4" stroke-width="0.8"/>
<path d="M477,1342 h14 v28 h-14 z M491,1345 h14 v22 h-14" stroke-width="0.9"/>
<path d="M480,1352 q3,-6 6,0 q3,6 6,0 q3,-6 6,0 M480,1360 q3,-6 6,0 q3,6 6,0 q3,-6 6,0" stroke-width="1"/>
<rect x="507" y="1339" width="4" height="33" stroke-width="0.9"/>
<rect x="515" y="1342" width="3" height="27" stroke-width="0.9"/>
<path d="M518,1357 h17 M511,1354 h20 M511,1360 h20" stroke-width="0.9"/>
<rect x="522" y="1350" width="7" height="6" stroke-width="0.9"/>
<rect x="531" y="1353" width="4" height="4" stroke-width="0.8"/>
<rect x="543.5" y="1349.4" width="12.5" height="15.2" rx="2" stroke-width="1"/>
<path d="M547,1349.4 v15.2" stroke-width="0.8"/>
<rect x="384" y="1374.7" width="169.6" height="5" stroke-width="1"/>
<path d="M385.3,1379.7 L385.3,1411.4 M543.5,1379.7 L543.5,1411.4 M385.3,1411.4 h158.2 M387.5,1379.7 v31.7 M541.5,1379.7 v31.7" stroke-width="1"/>
<path d="M473.5,1379.7 v31.7 M477,1379.7 v31.7" stroke-width="1"/>
<path d="M387.5,1406.5 h86 M477,1406.5 h64.5 M477,1388 h64.5" stroke-width="0.8"/>
<rect x="390.3" y="1384.8" width="34.2" height="20.2" stroke-width="1"/>
<path d="M392,1389 h30 M392,1393 h30 M392,1397 h30 M392,1401 h30" stroke-width="0.9"/>
<path d="M384,1355 L372.6,1355 L372.6,1397.5 L384,1397.5 M374.6,1357 L374.6,1395.5 L384,1395.5" stroke-width="0.9"/>
<rect x="378" y="1393" width="6" height="8" stroke-width="0.9"/>
</g>
<!-- ===== OTHER: distillation vessel ===== -->
<g fill="none" stroke="#1c1c1c" stroke-width="1">
<path d="M607.5,1298 L607.5,1430" stroke="#555" stroke-width="0.8" stroke-dasharray="2,1.5"/>
<path d="M596.3,1308.2 Q606.5,1305.5 616.6,1308.2" stroke-width="0.8"/>
<circle cx="596.3" cy="1308.2" r="0.8" fill="#222"/><circle cx="616.6" cy="1308.2" r="0.8" fill="#222"/>
<rect x="600.4" y="1313.3" width="12.1" height="12.1" stroke-width="1"/>
<path d="M600.4,1313.5 h12.1" stroke="#111" stroke-width="1.4"/>
<path d="M600.4,1325.4 h12.1" stroke="#111" stroke-width="1.5"/>
<path d="M601,1326.5 L599,1340 M612,1326.5 L614,1340" stroke="#111" stroke-width="1.4"/>
<path d="M598,1341.6 h16.6 M599,1340 v7 M614,1340 v7" stroke-width="1.2"/>
<circle cx="607" cy="1342" r="1.8" fill="#666"/>
<path d="M613,1320 l5,-2 h2 M613,1324 l5,-6" stroke-width="0.7"/>
<path d="M587.2,1360.4 C589,1352 596,1348.2 607.5,1348.2 C619,1348.2 629,1352 630.8,1360.4" stroke-width="1.1"/>
<path d="M587.2,1360.4 L587.2,1402.4 M630.8,1360.4 L630.8,1402.4" stroke-width="1.1"/>
<path d="M587.2,1402.4 C589,1411 596,1414.6 607.5,1414.6 C619,1414.6 629,1411 630.8,1402.4" stroke-width="1.1"/>
<path d="M587.2,1360.4 h43.6 M587.2,1402.4 h43.6" stroke="#888" stroke-width="1"/>
<circle cx="585.7" cy="1360.9" r="1.8" stroke-width="0.9"/><circle cx="631.3" cy="1360.9" r="1.8" stroke-width="0.9"/>
<circle cx="585.7" cy="1402.4" r="1.8" stroke-width="0.9"/><circle cx="631.3" cy="1402.4" r="1.8" stroke-width="0.9"/>
<path d="M605.8,1349 v64 M609.2,1349 v64" stroke="#666" stroke-width="0.8"/>
<rect x="594" y="1391.5" width="25.6" height="2.8" rx="1.4" stroke-width="1"/>
<rect x="594" y="1407.2" width="25.6" height="2.8" rx="1.4" stroke-width="1"/>
<path d="M593.3,1414.6 L590.3,1429.7 M599.4,1415.6 L597.5,1429.7 M617.6,1415.6 L618.6,1429.7 M624.7,1414.6 L626.8,1429.7" stroke-width="1"/>
<path d="M588.5,1348 l3,-1 l3,1 M620.5,1348 l3,-1 l3,1 M591,1348 v3 M623.5,1348 v3" stroke="#111" stroke-width="1.3"/>
<path d="M589,1342 l2,3 M625,1342 l-2,3" stroke-width="0.7"/>
<path d="M626,1373 l-6,2" stroke-width="0.7"/>
<path d="M612,1395 l10,7 M620,1401 l3,-3 M614,1408 l8,-6" stroke-width="0.7"/>
<path d="M605,1418 h5 M604.5,1419 h6" stroke="#111" stroke-width="1.5"/>
<path d="M609,1370.5 h4 M606,1378 l3,-1" stroke="#111" stroke-width="1.3"/>
</g>
<!-- ===== OTHER: electroplating ===== -->
<g fill="none" stroke="#222" stroke-width="1">
<rect x="671.2" y="1342.4" width="27" height="36.5" fill="url(#pDash)" stroke="none"/>
<rect x="734" y="1342.4" width="25.6" height="36.5" fill="url(#pDash)" stroke="none"/>
<rect x="671.2" y="1380" width="88.4" height="38.2" fill="url(#pDash)" stroke="none"/>
<rect x="698.6" y="1353" width="35" height="25.5" fill="url(#pDots)" stroke="none"/>
<path d="M668.7,1325.7 L668.7,1420.6 L761.3,1420.6 L761.3,1325.7 L746,1325.7" stroke-width="1.1"/>
<path d="M692,1325.7 L668.7,1325.7" stroke-width="1.1"/>
<path d="M671,1328.7 L671,1418.4 L759.8,1418.4 L759.8,1328.7" stroke-width="0.9"/>
<rect x="671" y="1326.2" width="21.5" height="2.6" rx="1.3" stroke-width="0.9"/>
<rect x="738.5" y="1326.2" width="21.5" height="2.6" rx="1.3" stroke-width="0.9"/>
<path d="M671,1342.4 h27.3 M734,1342.4 h25.8" stroke-width="1.2"/>
<path d="M698.3,1315 L698.3,1379 L734,1379 L734,1315" stroke="#111" stroke-width="1.6"/>
<path d="M671,1379.6 h88.8" stroke="#111" stroke-width="1.4"/>
<path d="M707.4,1309 L707.4,1366 M724.9,1309 L724.9,1366" stroke-width="0.9"/>
<rect x="705.8" y="1358" width="3.5" height="11" fill="#fff" stroke-width="0.8"/>
<rect x="688.4" y="1391.5" width="53.9" height="5.5" rx="1.5" fill="#fff" stroke-width="1"/>
<path d="M665.6,1334.8 L698.3,1358.4 M665.6,1353 L698.3,1374 M665.6,1394.8 L678.5,1405.4 M763.6,1322.7 L724,1353.8 M763.6,1348.5 L734,1370 M763.6,1379.6 L733.2,1395.6" stroke-width="0.8"/>
</g>

</svg>

<div class="title"><span>各行各业运用</span></div>

<!-- SECTION 1 -->
<div class="hdr" style="top:210px;height:47.5px"><span style="top:3.5px">食品加工行业</span></div>
<div class="ln" style="left:77px;top:274px;width:585px;height:4px"></div>
<div class="ln" style="left:77px;top:274px;width:4.5px;height:17px"></div>
<div class="ln" style="left:266.5px;top:274px;width:4px;height:62px"></div>
<div class="ln" style="left:379px;top:274px;width:4px;height:67.5px"></div>
<div class="ln" style="left:509.5px;top:274px;width:4px;height:68px"></div>
<div class="ln" style="left:658px;top:274px;width:4px;height:74px"></div>
<div class="lbl" style="left:219px;top:449px">蒸煮</div>
<div class="lbl" style="left:356.6px;top:449px">酿酒</div>
<div class="lbl" style="left:490.5px;top:449px">中央厨房</div>
<div class="lbl" style="left:632.4px;top:449px">食品烘干</div>

<!-- SECTION 2 -->
<div class="hdr" style="top:513px;height:47.5px"><span style="left:24.5px;top:3px">化工行业</span></div>
<div class="ln" style="left:77px;top:577px;width:585px;height:4px"></div>
<div class="ln" style="left:77px;top:577px;width:4.5px;height:20px"></div>
<div class="ln" style="left:267px;top:577px;width:4px;height:61px"></div>
<div class="ln" style="left:379px;top:577px;width:4px;height:67.5px"></div>
<div class="ln" style="left:510px;top:577px;width:4px;height:65px"></div>
<div class="ln" style="left:658px;top:577px;width:4px;height:52px"></div>
<div class="lbl s2" style="left:215px;top:775px">反应釜</div>
<div class="lbl s2" style="left:341px;top:775px">发酵罐</div>
<div class="lbl s2" style="left:466.3px;top:775px">灭菌罐</div>
<div class="lbl s2" style="left:606.6px;top:775px">乳化机</div>

<!-- SECTION 3 -->
<div class="hdr" style="top:854px;height:47.5px"><span style="word-spacing:1.6px;left:18.3px;top:2.5px">纺织 / 服装熨烫</span></div>
<div class="ln" style="left:79.5px;top:920px;width:618px;height:4px"></div>
<div class="ln" style="left:79.5px;top:920px;width:4.5px;height:17px"></div>
<div class="ln" style="left:280px;top:920px;width:4px;height:72.5px"></div>
<div class="ln" style="left:439.3px;top:920px;width:4px;height:73px"></div>
<div class="ln" style="left:536.5px;top:920px;width:4px;height:72.5px"></div>
<div class="ln" style="left:693.5px;top:920px;width:4.2px;height:74px"></div>
<div class="lbl s3" style="left:241.6px;top:1117px">熨烫机</div>
<div class="lbl s3" style="left:407.4px;top:1119px">水洗机</div>
<div class="lbl s3" style="left:515.6px;top:1119px">烘干机</div>
<div class="lbl s3" style="left:648.4px;top:1118px">干洗机</div>

<!-- SECTION 4 -->
<div class="hdr" style="top:1180px;height:47.5px"><span style="left:20px;top:4.5px">其他行业</span></div>
<div class="ln" style="left:79.5px;top:1246px;width:618px;height:4px"></div>
<div class="ln" style="left:79.5px;top:1246px;width:4.5px;height:19px"></div>
<div class="ln" style="left:279.5px;top:1246px;width:4.5px;height:72.5px"></div>
<div class="ln" style="left:438.5px;top:1246px;width:4px;height:108.5px"></div>
<div class="ln" style="left:605.7px;top:1246px;width:4.3px;height:52.5px"></div>
<div class="ln" style="left:693.3px;top:1246px;width:4.3px;height:72px"></div>
<div class="lbl s3" style="left:204.7px;top:1442.5px">预制板脱模</div>
<div class="lbl s3" style="left:421.9px;top:1442.5px">塑料工业</div>
<div class="lbl s3" style="left:552.3px;top:1442.5px">工业蒸馏</div>
<div class="lbl s3" style="left:676.5px;top:1442.5px">电镀厂</div>

</body>
</html>
